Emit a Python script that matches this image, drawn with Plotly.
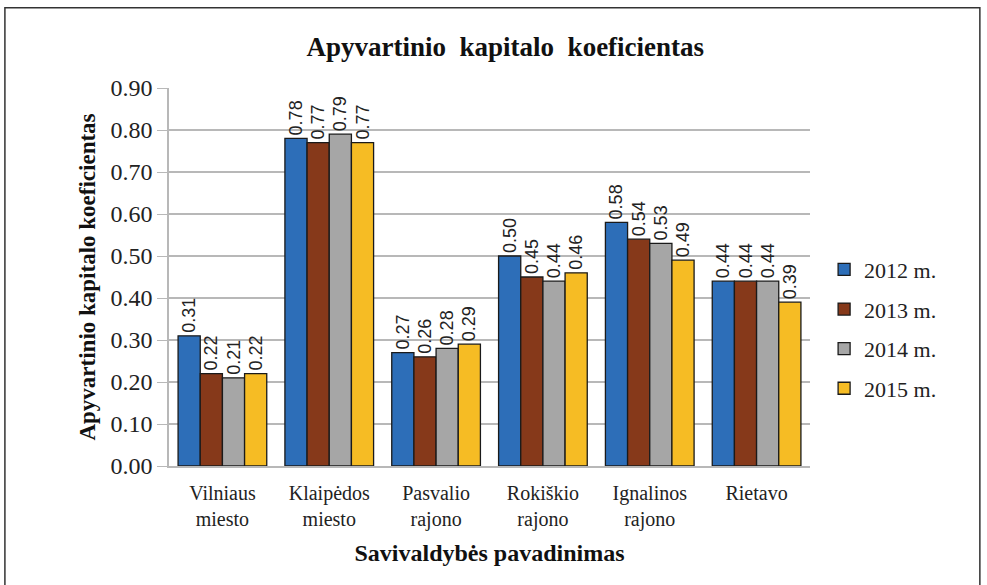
import plotly.graph_objects as go

# Working-capital ratio by municipality, 2012-2015
municipalities = ["Vilniaus<br>miesto", "Klaipėdos<br>miesto", "Pasvalio<br>rajono",
                  "Rokiškio<br>rajono", "Ignalinos<br>rajono", "Rietavo"]
years = ["2012 m.", "2013 m.", "2014 m.", "2015 m."]
values_2012 = [0.31, 0.78, 0.27, 0.50, 0.58, 0.44]
values_2013 = [0.22, 0.77, 0.26, 0.45, 0.54, 0.44]
values_2014 = [0.21, 0.79, 0.28, 0.44, 0.53, 0.44]
values_2015 = [0.22, 0.77, 0.29, 0.46, 0.49, 0.39]
y_ticks = [0.0, 0.1, 0.2, 0.3, 0.4, 0.5, 0.6, 0.7, 0.8, 0.9]

series = [values_2012, values_2013, values_2014, values_2015]
colors = ["#2d6eb8", "#86391a", "#a6a6a6", "#f6bc24"]

serif = "Liberation Serif, Times New Roman, serif"
label_font = "Liberation Sans Narrow, Liberation Sans, Arial, sans-serif"

fig = go.Figure()
for name, vals, col in zip(years, series, colors):
    fig.add_trace(go.Bar(
        name=name, x=municipalities, y=vals,
        marker=dict(color=col, line=dict(color="#1a1a1a", width=1.3)),
        text=[f"{v:.2f}" for v in vals],
        textposition="outside", textangle=-90,
        textfont=dict(family=label_font, size=18, color="#222"),
        cliponaxis=False,
        legendgroup=name,
    ))

fig.update_layout(
    width=987, height=585,
    paper_bgcolor="white", plot_bgcolor="white",
    margin=dict(l=169, r=177, t=88, b=119),
    barmode="group", bargap=0.17, bargroupgap=0.0,
    uniformtext=dict(minsize=18, mode="show"),
    title=dict(text="<b>Apyvartinio  kapitalo  koeficientas</b>",
               x=0.512, xanchor="center", y=0.92, yanchor="middle",
               font=dict(family=serif, size=27, color="#111")),
    font=dict(family=serif, color="#111"),
    legend=dict(x=1.022, y=0.362, xanchor="left", yanchor="middle",
                font=dict(family=serif, size=22, color="#222"),
                tracegroupgap=8, traceorder="grouped", bgcolor="rgba(0,0,0,0)"),
    showlegend=True,
    shapes=[dict(type="rect", xref="paper", yref="paper",
                 x0=-0.256, x1=1.265, y0=-0.34, y1=1.212,
                 line=dict(color="#333", width=1.5), fillcolor="rgba(0,0,0,0)",
                 layer="below")],
)

fig.update_yaxes(
    range=[0, 0.9], tickvals=y_ticks, tickformat=".2f",
    showgrid=True, gridcolor="#b8b8b8", gridwidth=1.6,
    showline=True, linecolor="#b8b8b8", linewidth=1.6,
    ticks="outside", ticklen=10, tickcolor="#b8b8b8",
    tickfont=dict(family=serif, size=24, color="#222"),
    title=dict(text="<b>Apyvartinio kapitalo koeficientas</b>",
               font=dict(family=serif, size=23, color="#111"), standoff=8),
    zeroline=False,
)
fig.update_xaxes(
    showline=True, linecolor="#b8b8b8", linewidth=1.6,
    tickfont=dict(family=serif, size=20, color="#222"),
    ticklabelstandoff=8,
    title=dict(text="<b>Savivaldybės pavadinimas</b>",
               font=dict(family=serif, size=24, color="#111"), standoff=14),
)

fig.write_html("out.html")
